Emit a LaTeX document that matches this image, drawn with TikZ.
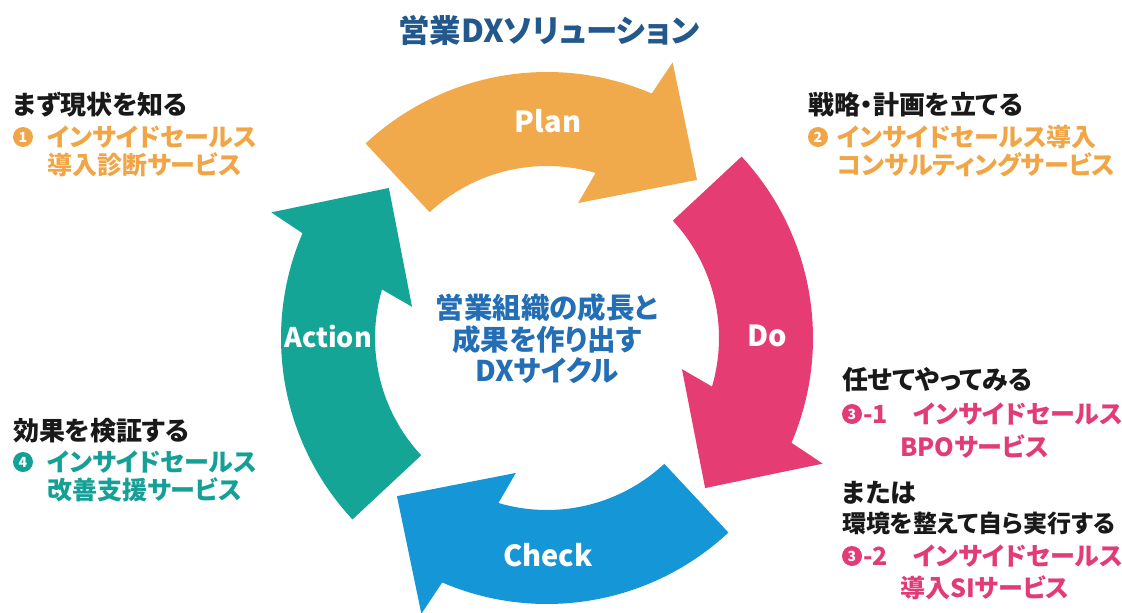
\documentclass[tikz,border=0pt]{standalone}
\usepackage{fontspec}
\setmainfont{Noto Sans CJK JP}[RawFeature=+palt]
\definecolor{planc}{RGB}{240,170,75}
\definecolor{doc}{RGB}{229,61,115}
\definecolor{checkc}{RGB}{20,150,215}
\definecolor{actc}{RGB}{20,165,150}
\definecolor{titlec}{RGB}{35,88,140}
\definecolor{midc}{RGB}{35,110,180}
\definecolor{ink}{RGB}{25,25,25}
\definecolor{orangetxt}{RGB}{240,165,70}
\definecolor{pinktxt}{RGB}{225,60,120}
\definecolor{tealtxt}{RGB}{20,160,150}

% one curved arrow of the cycle, turned by #1 degrees about the centre
\newcommand\cyclearrow[2]{%
  \begin{scope}[shift={(547,-338)}, rotate=#1]
    \fill[#2] (133:266) arc[start angle=133, end angle=66.8, radius=266]
      -- (65.5:303) -- (46.5:218) -- (77:138.5) -- (73.6:172)
      arc[start angle=73.6, end angle=133, radius=172] -- cycle;
  \end{scope}}

\tikzset{
  lbl/.style={inner sep=0pt, text=white, font=\bfseries\fontsize{29}{29}\selectfont},
  head/.style={anchor=west, inner sep=0pt, text=ink, font=\bfseries\fontsize{26}{26}\selectfont},
  svc/.style={anchor=west, inner sep=0pt, font=\bfseries\fontsize{25}{25}\selectfont},
  num/.style={circle, inner sep=0pt, minimum size=20pt, text=white, font=\bfseries\fontsize{14}{14}\selectfont},
}

\begin{document}
\begin{tikzpicture}[x=1pt, y=1pt]
\useasboundingbox (0,0) rectangle (1122,-613);

% the four PDCA arrows
\cyclearrow{0}{planc}
\cyclearrow{-90}{doc}
\cyclearrow{-180}{checkc}
\cyclearrow{-270}{actc}

\node[lbl] (plan) at (548,-121) {Plan};
\node[lbl] (do) at (767,-336) {Do};
\node[lbl] (check) at (548,-555) {Check};
\node[lbl, font=\bfseries\fontsize{27}{27}\selectfont] (action) at (328,-336) {Action};

% title and centre caption
\node[inner sep=0pt, text=titlec, font=\bfseries\fontsize{31.5}{31.5}\selectfont] (title) at (549,-30) {営業DXソリューション};
\node[inner sep=0pt, align=center, text=midc, font=\bfseries\fontsize{28.5}{31.5}\selectfont] (centre) at (547,-339) {営業組織の成長と\\成果を作り出す\\DXサイクル};

% Plan: upper left
\node[head] (h1) at (13,-105) {まず現状を知る};
\node[num, fill=orangetxt] (n1) at (23,-137) {1};
\node[svc, text=orangetxt] (s1a) at (47,-137) {インサイドセールス};
\node[svc, text=orangetxt] (s1b) at (47,-165) {導入診断サービス};

% Do planning: upper right
\node[head] (h2) at (808,-105) {戦略・計画を立てる};
\node[num, fill=orangetxt] (n2) at (818,-137) {2};
\node[svc, text=orangetxt] (s2a) at (837,-137) {インサイドセールス導入};
\node[svc, text=orangetxt] (s2b) at (837,-165) {コンサルティングサービス};

% Action: lower left
\node[head] (h4) at (13,-431) {効果を検証する};
\node[num, fill=tealtxt] (n4) at (23,-462) {4};
\node[svc, text=tealtxt] (s4a) at (47,-462) {インサイドセールス};
\node[svc, text=tealtxt] (s4b) at (47,-490) {改善支援サービス};

% Do: lower right
\node[head] (h3) at (842,-380) {任せてやってみる};
\node[num, fill=pinktxt] (n31) at (852,-414) {3};
\node[svc, text=pinktxt] (d31) at (863,-414) {-1};
\node[svc, text=pinktxt] (s31a) at (913,-414) {インサイドセールス};
\node[svc, text=pinktxt] (s31b) at (900,-446) {BPOサービス};
\node[head] (h3b) at (842,-493) {または};
\node[head, font=\bfseries\fontsize{24}{24}\selectfont] (h3c) at (842,-523) {環境を整えて自ら実行する};
\node[num, fill=pinktxt] (n32) at (852,-556) {3};
\node[svc, text=pinktxt] (d32) at (863,-556) {-2};
\node[svc, text=pinktxt] (s32a) at (913,-556) {インサイドセールス};
\node[svc, text=pinktxt] (s32b) at (900,-588) {導入SIサービス};
\end{tikzpicture}
\end{document}
